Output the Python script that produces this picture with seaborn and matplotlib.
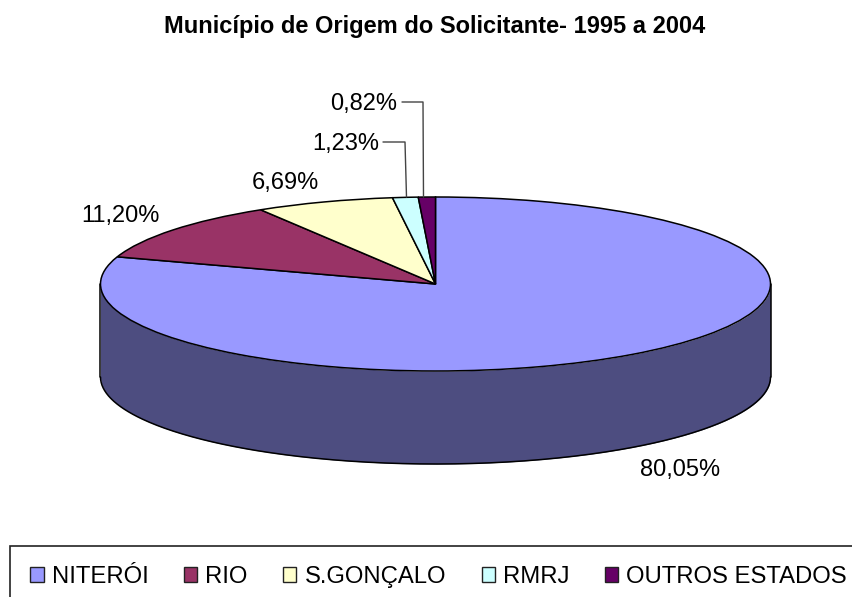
import numpy as np
import matplotlib
matplotlib.use("Agg")
import matplotlib.pyplot as plt
from matplotlib.patches import Patch, Rectangle
import seaborn as sns

W, H = 853, 597
title = "Município de Origem do Solicitante- 1995 a 2004"
categories = ["NITERÓI", "RIO", "S.GONÇALO", "RMRJ", "OUTROS ESTADOS"]
values = [80.05, 11.20, 6.69, 1.23, 0.82]
colors = ["#9999FF", "#993366", "#FFFFCC", "#CCFFFF", "#660066"]
side_color = "#4D4D80"

CX, CY, RX, RY, DEPTH_PX = 435.5, 284.0, 335.0, 87.0, 93.0

sns.set_theme(style="white")
plt.rcParams["font.family"] = ["Liberation Sans", "DejaVu Sans"]

fig = plt.figure(figsize=(W / 100, H / 100), dpi=100, facecolor="white")
ax = fig.add_axes([0, 0, 1, 1])

wedges, _ = ax.pie(values, startangle=90, counterclock=False, colors=colors,
                   wedgeprops=dict(edgecolor="black", linewidth=1.1), radius=1.0)
ax.set_aspect("auto")
ax.set_xlim(-CX / RX, (W - CX) / RX)
ax.set_ylim((CY - H) / RY, CY / RY)
ax.set_axis_off()


def px(x, y):
    """Pixel position in the picture to pie units."""
    return (x - CX) / RX, (CY - y) / RY


# cylinder wall
depth = DEPTH_PX / RY
theta = np.linspace(np.pi, 2 * np.pi, 300)
xs, top = np.cos(theta), np.sin(theta)
ax.fill_between(xs, top, top - depth, color=side_color, linewidth=0, zorder=0.5)
ax.plot(xs, top - depth, color="black", lw=1.1, zorder=0.6)
for end in (-1, 1):
    ax.plot([end, end], [0, -depth], color="black", lw=1.1, zorder=0.6)

# percentage labels
label_px = [(680.5, 470), (120.5, 216), (285.5, 183.5), (379.5, 144), (397.5, 104)]
label_ha = ["center", "center", "center", "right", "right"]
for v, (lx, ly), ha in zip(values, label_px, label_ha):
    tx, ty = px(lx, ly)
    ax.text(tx, ty, f"{v:.2f}".replace(".", ",") + "%", ha=ha, va="center",
            fontsize=17, color="black")

# leader lines for the two small slices
leader_px = [(383, 142, 405, 406.5), (402, 102, 423, 423.5)]
for x0, y0, xk, xe in leader_px:
    path = [px(x0, y0), px(xk, y0), px(xe, 197)]
    ax.plot(*zip(*path), color="#444444", lw=1.0, zorder=3)

fig.text(434.5 / W, 1 - 33 / H, title, ha="center", va="baseline",
         fontsize=17, fontweight="bold", color="black")

# legend frame runs off the right and bottom of the picture
fig.add_artist(Rectangle((10 / W, -10 / H), (W + 10) / W, (H - 545.5 + 10) / H,
                         transform=fig.transFigure, facecolor="white",
                         edgecolor="#222222", linewidth=1.2, zorder=1))
handles = [Patch(facecolor=c, edgecolor="#222222", linewidth=1.0) for c in colors]
leg = fig.legend(handles, categories, loc="upper left",
                 bbox_to_anchor=(30.5 / W, 1 - 566 / H), bbox_transform=fig.transFigure,
                 ncol=5, fontsize=17.2, frameon=False,
                 borderaxespad=0, borderpad=0, handlelength=0.55, handleheight=0.55,
                 handletextpad=0.34, columnspacing=1.49, labelcolor="black")
leg.set_zorder(2)

fig.savefig("out.png", dpi=100, facecolor="white")
